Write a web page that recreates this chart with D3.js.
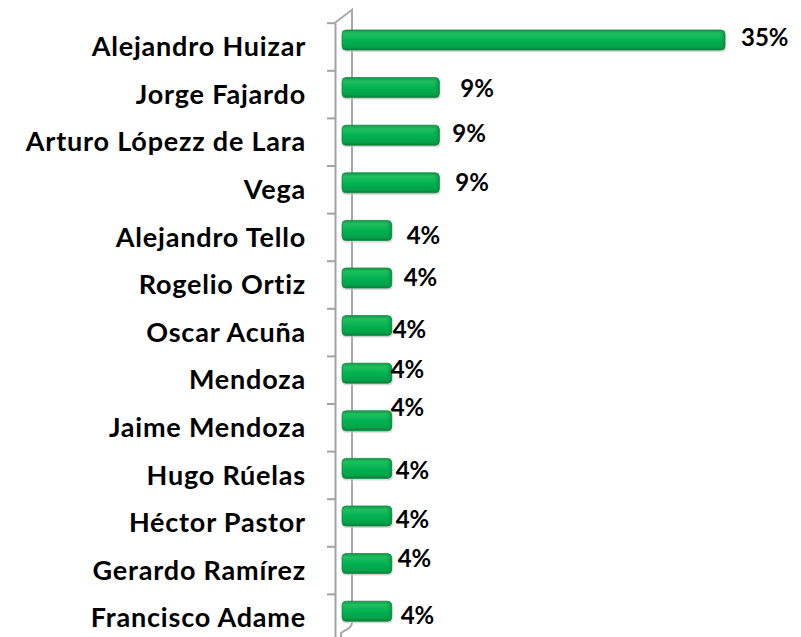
<!DOCTYPE html>
<html>
<head>
<meta charset="utf-8">
<script src="https://cdn.jsdelivr.net/npm/d3@7"></script>
<style>
  body { margin: 0; background: #fff; }
  text { font-family: Lato, "Open Sans", sans-serif; font-weight: bold; fill: #000; }
</style>
</head>
<body>
<script>
// votes as share of 23 answers
let names = ["Alejandro Huizar", "Jorge Fajardo", "Arturo Lópezz de Lara", "Vega",
             "Alejandro Tello", "Rogelio Ortiz", "Oscar Acuña", "Mendoza", "Jaime Mendoza",
             "Hugo Rúelas", "Héctor Pastor", "Gerardo Ramírez", "Francisco Adame"];
let shares = [34.78, 8.70, 8.70, 8.70, 4.35, 4.35, 4.35, 4.35, 4.35, 4.35, 4.35, 4.35, 4.35];
let shareLabels = ["35%", "9%", "9%", "9%", "4%", "4%", "4%", "4%", "4%", "4%", "4%", "4%", "4%"];

// excel left the data labels a bit scattered, nudges [dx, dy]
let labelNudge = [[16, -2.5], [21, 1], [13, -1.5], [16, 0], [15, 4.5], [12, -1], [1, 4],
                  [-1, -3.5], [-1, -13], [4, 1.5], [4, 3], [6, -5.5], [9, 4.5]];

let width = 801, height = 637;
let svg = null;
let x, y, yTicks = null;

appendSvg("body");
setupScales();
appendDefs();
appendAxis();
appendBars();
appendLabels();

function appendSvg(domElement) {
  svg = d3.select(domElement).append("svg")
    .attr("width", width)
    .attr("height", height);
}

function setupScales() {
  x = d3.scaleLinear().domain([0, shares[0]]).range([344, 725]);
  y = d3.scaleBand().domain(names).range([22.7, 641.5]);
  yTicks = d3.scaleLinear().domain([0, names.length]).range([22.7, 641.5]);
}

function appendDefs() {
  let defs = svg.append("defs");
  let g = defs.append("linearGradient")
    .attr("id", "barFill")
    .attr("x1", 0).attr("y1", 0).attr("x2", 0).attr("y2", 1);
  g.append("stop").attr("offset", "0%").attr("stop-color", "#14994a");
  g.append("stop").attr("offset", "18%").attr("stop-color", "#1ebf5e");
  g.append("stop").attr("offset", "55%").attr("stop-color", "#00b050");
  g.append("stop").attr("offset", "85%").attr("stop-color", "#03a148");
  g.append("stop").attr("offset", "100%").attr("stop-color", "#0a7d39");

  let cap = defs.append("linearGradient")
    .attr("id", "capFill")
    .attr("x1", 0).attr("y1", 0).attr("x2", 1).attr("y2", 0);
  cap.append("stop").attr("offset", "0%").attr("stop-color", "#00b050").attr("stop-opacity", 0);
  cap.append("stop").attr("offset", "100%").attr("stop-color", "#0b8a3e").attr("stop-opacity", 0.8);
}

function appendAxis() {
  // outer axis with ticks between the categories
  let axis = svg.append("g")
    .attr("transform", "translate(335, 0)")
    .call(d3.axisLeft(yTicks)
      .tickValues(d3.range(names.length + 1))
      .tickFormat("")
      .tickSizeInner(8)
      .tickSizeOuter(0));
  axis.selectAll("line, path").attr("stroke", "#a3a3a3").attr("stroke-width", 2);

  // back wall edge of the 3d frame
  let top = yTicks(0);
  svg.append("path")
    .attr("d", `M335,${top} L352,${top - 13} L352,622 Q352,627 346,630 L341,633 L341,637`)
    .attr("fill", "none")
    .attr("stroke", "#a8a8a8")
    .attr("stroke-width", 2);
}

function appendBars() {
  let barH = 20;
  let off = -6.5;
  let bars = svg.selectAll(".bar")
    .data(names)
    .enter().append("g")
    .attr("class", "bar");

  // soft shadow
  bars.append("rect")
    .attr("x", x(0) - 2)
    .attr("y", (d) => y(d) + y.bandwidth() / 2 + off - barH / 2 + 2)
    .attr("width", (d, i) => x(shares[i]) - x(0) + 3)
    .attr("height", barH)
    .attr("rx", 4)
    .style("fill", "#c9c9c9")
    .style("opacity", 0.7);

  bars.append("rect")
    .attr("x", x(0) - 2)
    .attr("y", (d) => y(d) + y.bandwidth() / 2 + off - barH / 2)
    .attr("width", (d, i) => x(shares[i]) - x(0) + 2)
    .attr("height", barH)
    .attr("rx", 4)
    .style("fill", "url(#barFill)")
    .style("stroke", "#13873f")
    .style("stroke-width", 0.8);

  // right end darkening
  bars.append("rect")
    .attr("x", (d, i) => x(shares[i]) - 6)
    .attr("y", (d) => y(d) + y.bandwidth() / 2 + off - barH / 2 + 1)
    .attr("width", 6)
    .attr("height", barH - 2)
    .attr("rx", 3)
    .style("fill", "url(#capFill)");
}

function appendLabels() {
  svg.selectAll(".cat")
    .data(names)
    .enter().append("text")
    .attr("class", "cat")
    .attr("x", 306)
    .attr("y", (d) => y(d) + y.bandwidth() / 2)
    .attr("dy", "0.36em")
    .attr("text-anchor", "end")
    .style("font-size", "27px")
    .style("letter-spacing", "0.8px")
    .text((d) => d);

  svg.selectAll(".val")
    .data(names)
    .enter().append("text")
    .attr("class", "val")
    .attr("x", (d, i) => x(shares[i]) + labelNudge[i][0])
    .attr("y", (d, i) => y(d) + y.bandwidth() / 2 - 6.5 + labelNudge[i][1])
    .attr("dy", "0.36em")
    .style("font-size", "24px")
    .text((d, i) => shareLabels[i]);
}
</script>
</body>
</html>
